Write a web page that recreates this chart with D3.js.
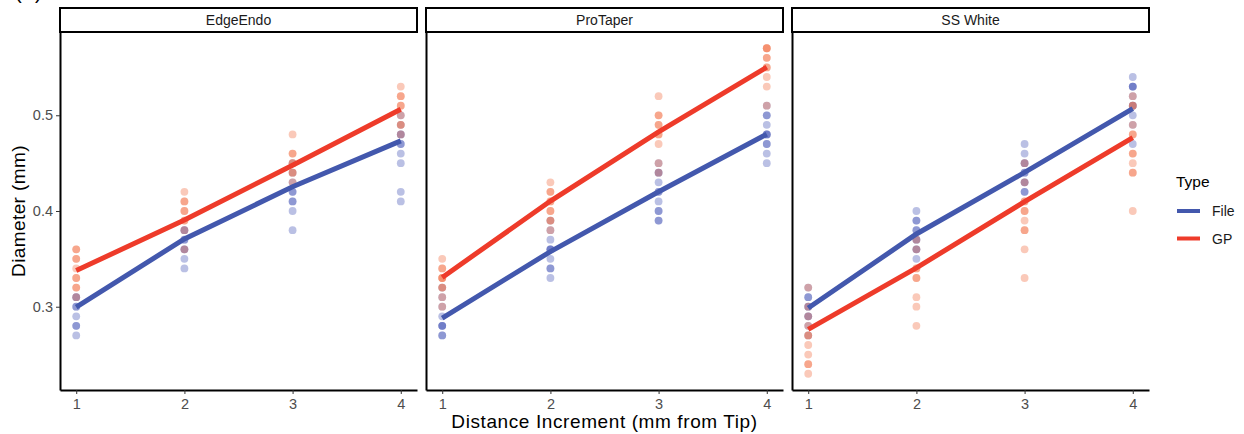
<!DOCTYPE html>
<html>
<head>
<meta charset="utf-8">
<script src="https://cdn.jsdelivr.net/npm/d3@7"></script>
<style>
  body { margin: 0; background: #fff; }
  svg { display: block; font-family: "Liberation Sans", Arial, sans-serif; }
</style>
</head>
<body>
<div id="chart"></div>
<script>
const distances = [1, 2, 3, 4];
const brands = ['EdgeEndo', 'ProTaper', 'SS White'];
const types = ['File', 'GP'];
const yTicks = [0.3, 0.4, 0.5];

// measured diameters (mm), one list per distance increment
const edgeEndoFile = [
  [0.31, 0.31, 0.30, 0.30, 0.29, 0.28, 0.28, 0.27],
  [0.38, 0.38, 0.37, 0.37, 0.36, 0.36, 0.35, 0.34],
  [0.45, 0.44, 0.43, 0.42, 0.42, 0.41, 0.41, 0.40, 0.38],
  [0.50, 0.49, 0.48, 0.48, 0.47, 0.47, 0.46, 0.45, 0.42, 0.41],
];
const edgeEndoGP = [
  [0.36, 0.36, 0.35, 0.35, 0.34, 0.33, 0.33, 0.32, 0.32, 0.31],
  [0.42, 0.41, 0.41, 0.40, 0.40, 0.39, 0.39, 0.38, 0.36],
  [0.48, 0.46, 0.46, 0.45, 0.45, 0.44, 0.44, 0.43],
  [0.53, 0.52, 0.52, 0.51, 0.51, 0.50, 0.49, 0.49, 0.48],
];
const proTaperFile = [
  [0.32, 0.31, 0.30, 0.29, 0.28, 0.28, 0.28, 0.27, 0.27],
  [0.39, 0.38, 0.37, 0.36, 0.36, 0.36, 0.35, 0.34, 0.34, 0.33],
  [0.45, 0.44, 0.44, 0.43, 0.42, 0.42, 0.41, 0.40, 0.40, 0.39, 0.39],
  [0.51, 0.50, 0.50, 0.49, 0.48, 0.48, 0.48, 0.47, 0.47, 0.46, 0.45],
];
const proTaperGP = [
  [0.35, 0.34, 0.34, 0.33, 0.33, 0.33, 0.32, 0.32, 0.31, 0.30],
  [0.43, 0.42, 0.42, 0.41, 0.41, 0.40, 0.40, 0.39, 0.39, 0.38],
  [0.52, 0.50, 0.50, 0.49, 0.49, 0.48, 0.48, 0.47, 0.45, 0.44],
  [0.57, 0.57, 0.57, 0.56, 0.56, 0.55, 0.55, 0.54, 0.53, 0.51],
];
const ssWhiteFile = [
  [0.32, 0.31, 0.31, 0.30, 0.30, 0.29, 0.29, 0.28, 0.27],
  [0.40, 0.39, 0.39, 0.38, 0.38, 0.37, 0.37, 0.36, 0.36, 0.35],
  [0.47, 0.46, 0.45, 0.45, 0.44, 0.44, 0.43, 0.43, 0.42, 0.42],
  [0.54, 0.53, 0.53, 0.53, 0.52, 0.51, 0.51, 0.50, 0.49, 0.47],
];
const ssWhiteGP = [
  [0.32, 0.30, 0.29, 0.28, 0.27, 0.27, 0.26, 0.25, 0.24, 0.24, 0.23],
  [0.37, 0.36, 0.34, 0.34, 0.33, 0.33, 0.31, 0.30, 0.28],
  [0.45, 0.43, 0.41, 0.41, 0.40, 0.40, 0.39, 0.38, 0.38, 0.36, 0.33],
  [0.52, 0.51, 0.51, 0.49, 0.48, 0.48, 0.46, 0.46, 0.45, 0.44, 0.44, 0.40],
];

// mean lines, per brand
const fileMeans = [
  [0.2997, 0.3708, 0.4253, 0.4733],
  [0.2882, 0.3576, 0.4201, 0.4802],
  [0.2986, 0.3760, 0.4403, 0.5069],
];
const gpMeans = [
  [0.3378, 0.3906, 0.4479, 0.5063],
  [0.3306, 0.4104, 0.4826, 0.5503],
  [0.2764, 0.3406, 0.4097, 0.4767],
];

const filePoints = [edgeEndoFile, proTaperFile, ssWhiteFile];
const gpPoints = [edgeEndoGP, proTaperGP, ssWhiteGP];

const lineColor = { File: '#4358AD', GP: '#EE3B2A' };
const pointColor = { File: '#3F50B3', GP: '#F26A3C' };

const width = 1244, height = 434;
const panelLeft = [60, 426, 792];
const panelW = 357;
const plotTop = 32, plotBottom = 390;

const svg = d3.select('#chart').append('svg')
  .attr('width', width).attr('height', height);

// partial panel tag, clipped at the top of the figure as in the source
svg.append('text')
  .attr('x', 15).attr('y', -1)
  .attr('font-size', 20).attr('fill', '#000')
  .text('(A)');

const y = d3.scaleLinear().domain([0.213, 0.587]).range([plotBottom, plotTop]);

brands.forEach((brand, bi) => {
  const x0 = panelLeft[bi];
  const x = d3.scaleLinear().domain([0.85, 4.15]).range([x0, x0 + panelW]);
  const g = svg.append('g');

  // strip
  g.append('rect')
    .attr('x', x0).attr('y', 8).attr('width', panelW).attr('height', 24)
    .attr('fill', '#fff').attr('stroke', '#000').attr('stroke-width', 2);
  g.append('text')
    .attr('x', x0 + panelW / 2).attr('y', 20)
    .attr('text-anchor', 'middle').attr('dominant-baseline', 'central')
    .attr('font-size', 14).attr('fill', '#1a1a1a')
    .text(brand);

  // points
  const pts = [];
  types.forEach(t => {
    const src = t === 'File' ? filePoints[bi] : gpPoints[bi];
    src.forEach((vals, di) => vals.forEach(v => pts.push({ type: t, d: distances[di], v })));
  });
  g.selectAll('circle.pt').data(pts).join('circle')
    .attr('class', 'pt')
    .attr('cx', d => x(d.d)).attr('cy', d => y(d.v))
    .attr('r', 3.9)
    .attr('fill', d => pointColor[d.type])
    .attr('fill-opacity', 0.36);

  // mean lines
  const line = d3.line().x((d, i) => x(distances[i])).y(d => y(d));
  g.append('path').datum(fileMeans[bi])
    .attr('d', line).attr('fill', 'none')
    .attr('stroke', lineColor.File).attr('stroke-width', 5);
  g.append('path').datum(gpMeans[bi])
    .attr('d', line).attr('fill', 'none')
    .attr('stroke', lineColor.GP).attr('stroke-width', 5);

  // x axis
  const xAxis = g.append('g').attr('transform', `translate(0,${plotBottom})`)
    .call(d3.axisBottom(x).tickValues(distances).tickFormat(d3.format('d')).tickSize(4).tickSizeOuter(0));
  xAxis.select('.domain').attr('stroke', '#000').attr('stroke-width', 2);
  xAxis.selectAll('.tick line').attr('stroke', '#333').attr('stroke-width', 1);
  xAxis.selectAll('.tick text').attr('fill', '#4d4d4d').attr('font-size', 14.5)
    .attr('font-family', '"Liberation Sans", Arial, sans-serif').attr('dy', '0.85em');

  // y axis
  const yAxis = g.append('g').attr('transform', `translate(${x0},0)`)
    .call(d3.axisLeft(y).tickValues(bi === 0 ? yTicks : []).tickFormat(d3.format('.1f')).tickSize(4).tickSizeOuter(0));
  yAxis.select('.domain').attr('stroke', '#000').attr('stroke-width', 2);
  yAxis.selectAll('.tick line').attr('stroke', '#333').attr('stroke-width', 1);
  yAxis.selectAll('.tick text').attr('fill', '#4d4d4d').attr('font-size', 14.5)
    .attr('font-family', '"Liberation Sans", Arial, sans-serif');
});

// axis titles
svg.append('text')
  .attr('x', (panelLeft[0] + panelLeft[2] + panelW) / 2).attr('y', 428)
  .attr('text-anchor', 'middle').attr('font-size', 19).attr('letter-spacing', 0.6)
  .attr('fill', '#000')
  .text('Distance Increment (mm from Tip)');
svg.append('text')
  .attr('transform', `translate(25,${(plotTop + plotBottom) / 2}) rotate(-90)`)
  .attr('text-anchor', 'middle').attr('font-size', 19).attr('letter-spacing', 0.4)
  .attr('fill', '#000')
  .text('Diameter (mm)');

// legend
const lg = svg.append('g').attr('transform', 'translate(1171,0)');
lg.append('text').attr('x', 5).attr('y', 187)
  .attr('font-size', 15.5).attr('fill', '#000').text('Type');
types.forEach((t, i) => {
  const ly = 211 + i * 27.5;
  lg.append('line').attr('x1', 6).attr('x2', 29).attr('y1', ly).attr('y2', ly)
    .attr('stroke', lineColor[t]).attr('stroke-width', 4);
  lg.append('text').attr('x', 41).attr('y', ly).attr('dominant-baseline', 'central')
    .attr('font-size', 14).attr('fill', '#1a1a1a').text(t);
});
</script>
</body>
</html>
